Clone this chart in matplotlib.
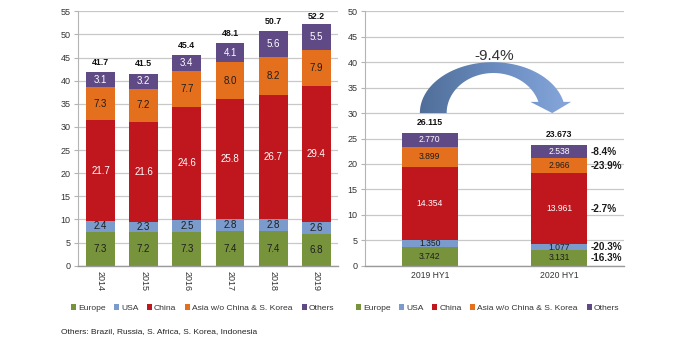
import matplotlib
matplotlib.use('Agg')
import matplotlib.pyplot as plt
import numpy as np
from matplotlib.patches import Patch, PathPatch
from matplotlib.path import Path
from matplotlib.colors import LinearSegmentedColormap

plt.rcParams['font.family'] = ['Liberation Sans', 'DejaVu Sans']

# Annual figures by region
years = ['2014', '2015', '2016', '2017', '2018', '2019']
europe = [7.3, 7.2, 7.3, 7.4, 7.4, 6.8]
usa = [2.4, 2.3, 2.5, 2.8, 2.8, 2.6]
china = [21.7, 21.6, 24.6, 25.8, 26.7, 29.4]
asia = [7.3, 7.2, 7.7, 8.0, 8.2, 7.9]
others = [3.1, 3.2, 3.4, 4.1, 5.6, 5.5]
year_totals = [41.7, 41.5, 45.4, 48.1, 50.7, 52.2]

# Half-year figures by region
halves = ['2019 HY1', '2020 HY1']
europe_h = [3.742, 3.131]
usa_h = [1.350, 1.077]
china_h = [14.354, 13.961]
asia_h = [3.899, 2.966]
others_h = [2.770, 2.538]
half_totals = [26.115, 23.673]
change_pct = [-16.3, -20.3, -2.7, -23.9, -8.4]   # Europe .. Others
total_change = -9.4

regions = ['Europe', 'USA', 'China', 'Asia w/o China & S. Korea', 'Others']
colors = ['#77933c', '#7b9bcc', '#c0161e', '#e46f1c', '#5f4a86']
text_colors = ['#1e1e1e', '#1e1e1e', 'white', '#1e1e1e', 'white']

GRID = '#c8c8c8'
TICK_TXT = '#333333'

fig = plt.figure(figsize=(6.8, 3.4), dpi=100)
ax1 = fig.add_axes([78 / 680, 1 - 265.7 / 340, 260 / 680, 254.4 / 340])
ax2 = fig.add_axes([365 / 680, 1 - 265.7 / 340, 259 / 680, 254.4 / 340])


def style(ax, ymax):
    ax.set_ylim(0, ymax)
    ax.set_yticks(np.arange(0, ymax + 1, 5))
    ax.yaxis.grid(True, color=GRID, linewidth=0.9)
    ax.set_axisbelow(True)
    for s in ['top', 'right']:
        ax.spines[s].set_visible(False)
    ax.spines['left'].set_color('#b4b4b4')
    ax.spines['bottom'].set_color('#9a9a9a')
    ax.spines['left'].set_linewidth(0.8)
    ax.spines['bottom'].set_linewidth(1.0)
    ax.tick_params(axis='y', length=3, width=0.8, color='#b4b4b4', pad=2.5,
                   labelsize=6.5, labelcolor=TICK_TXT)
    ax.tick_params(axis='x', length=0, labelcolor=TICK_TXT)


def stacked(ax, x, series, width, fs, fmt):
    bottom = np.zeros(len(x))
    for vals, col, tcol in zip(series, colors, text_colors):
        vals = np.asarray(vals, dtype=float)
        ax.bar(x, vals, width, bottom=bottom, color=col, linewidth=0, zorder=2)
        for xi, b, v in zip(x, bottom, vals):
            ax.text(xi, b + v / 2, fmt.format(v), ha='center', va='center',
                    fontsize=fs, color=tcol, zorder=4)
        bottom = bottom + vals
    return bottom


# ---- left: annual stacked bars ----
x1 = np.arange(len(years))
stacked(ax1, x1, [europe, usa, china, asia, others], 0.67, 7, '{:.1f}')
for xi, t in zip(x1, year_totals):
    ax1.text(xi, min(t + 2.2, 53.8), f'{t:.1f}', ha='center', va='center',
             fontsize=6.3, fontweight='bold', color='#111111', clip_on=False)
style(ax1, 55)
ax1.set_xlim(-0.52, 5.5)
ax1.set_xticks(x1)
ax1.set_xticklabels(years, rotation=270, fontsize=6.5)
ax1.tick_params(axis='x', pad=4)

# ---- right: half-year comparison ----
x2 = np.arange(len(halves))
bw = 0.43
stacked(ax2, x2, [europe_h, usa_h, china_h, asia_h, others_h], bw, 6.2, '{:.3f}')
for xi, t in zip(x2, half_totals):
    ax2.text(xi, t + 2.1, f'{t:.3f}', ha='center', va='center', fontsize=6.2,
             fontweight='bold', color='#111111')

# regional change labels beside the latest bar
segs = [europe_h[1], usa_h[1], china_h[1], asia_h[1], others_h[1]]
cum = np.concatenate([[0], np.cumsum(segs)])
for i, pct in enumerate(change_pct):
    ax2.text(1 + bw / 2 + 0.03, (cum[i] + cum[i + 1]) / 2, f'{pct:.1f}%',
             ha='left', va='center', fontsize=7.2, fontweight='bold',
             color='#1a1a1a', clip_on=False)

# curved arrow between the two periods
base_y, head_y = 30.0, 32.2
ocx, oa, ob = 0.485, 0.5615, 10.0
icx, ia, ib = 0.492, 0.3615, 7.87
to_end = np.arcsin((head_y - base_y) / ob)
ti_end = np.arcsin((head_y - base_y) / ib)
t_out = np.linspace(np.pi, to_end, 80)
t_in = np.linspace(ti_end, np.pi, 80)
outer = np.column_stack([ocx + oa * np.cos(t_out), base_y + ob * np.sin(t_out)])
inner = np.column_stack([icx + ia * np.cos(t_in), base_y + ib * np.sin(t_in)])
head = np.array([[1.092, head_y], [0.946, base_y], [0.777, head_y]])
verts = np.vstack([outer, head, inner, outer[:1]])
codes = [Path.MOVETO] + [Path.LINETO] * (len(verts) - 2) + [Path.CLOSEPOLY]
arrow = PathPatch(Path(verts, codes), facecolor='none', edgecolor='none',
                  transform=ax2.transData)
ax2.add_patch(arrow)
cmap = LinearSegmentedColormap.from_list('arr', ['#4f6d97', '#6a8cc0', '#8aaade'])
grad = np.linspace(0, 1, 256).reshape(1, -1)
img = ax2.imshow(grad, extent=[-0.1, 1.15, base_y - 1, base_y + ob + 1],
                 cmap=cmap, aspect='auto', zorder=3, interpolation='bilinear')
img.set_clip_path(arrow)
ax2.text(0.5, 41.2, f'{total_change:.1f}%', ha='center', va='center',
         fontsize=11, color='#333333', zorder=5)

style(ax2, 50)
ax2.set_xlim(-0.5, 1.5)
ax2.set_xticks(x2)
ax2.set_xticklabels(halves, fontsize=6.2)
ax2.tick_params(axis='x', pad=4)

# legends
handles = [Patch(facecolor=c, edgecolor='none') for c in colors]
for xpos in (71 / 680, 356 / 680):
    fig.legend(handles, regions, loc='center left',
               bbox_to_anchor=(xpos, 1 - 308 / 340), ncol=5, frameon=False,
               fontsize=6.1, handlelength=0.6, handleheight=0.6,
               handletextpad=0.2, columnspacing=1.05, borderpad=0,
               borderaxespad=0, labelcolor='#333333')

fig.text(61 / 680, 1 - 332 / 340,
         'Others: Brazil, Russia, S. Africa, S. Korea, Indonesia',
         ha='left', va='center', fontsize=6.0, color='#222222')

fig.savefig('out.png', dpi=100)
